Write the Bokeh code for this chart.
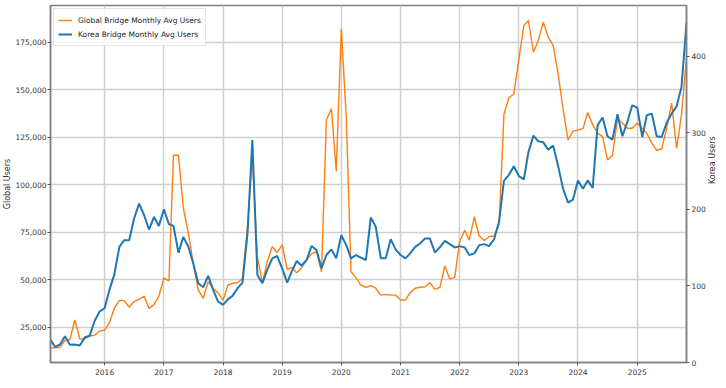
import math
import pandas as pd
from bokeh.plotting import figure
from bokeh.models import (Range1d, LinearAxis, FixedTicker, NumeralTickFormatter,
                          DatetimeTickFormatter, Legend, LegendItem)
from bokeh.embed import file_html
from bokeh.resources import INLINE

# ---- data (monthly averages, Feb 2015 .. Nov 2025) ----
start_month = "2015-02-01"

global_users = [
    14200, 14200, 14500, 18000, 18500, 28800, 18700, 18900, 20400, 20800,
    22900, 23500, 27700, 35000, 39000, 39000, 35500, 38500, 39600, 41300,
    34800, 37000, 41400, 50800, 49400, 115500, 115500, 87700, 74500, 58700,
    44600, 40200, 48900, 45400, 43100, 39300, 47200, 48100, 48400, 50700,
    78000, 114200, 62200, 48400, 59500, 67400, 64300, 68300, 55500, 56400,
    53700, 56400, 60400, 63600, 64800, 54200, 134000, 140000, 107100, 182000,
    135300, 54200, 51100, 47200, 46000, 46900, 45500, 41900, 42300, 41900,
    41900, 39300, 39300, 43200, 45500, 46000, 46300, 48400, 44900, 46000,
    57200, 50300, 51200, 70000, 76000, 70800, 83100, 73000, 70600, 72700,
    73000, 79000, 137000, 145900, 147600, 166100, 183700, 186400, 169700, 175800,
    185500, 177600, 173200, 158200, 139700, 123500, 128200, 128800, 129500, 138000,
    131500, 127100, 125300, 113000, 115400, 134500, 132500, 129700, 129700, 132400,
    129700, 127000, 121800, 118000, 118900, 129500, 142900, 119100, 136700, 167000,
]

korea_users = [
    29.5, 20.5, 23.5, 34.4, 23.1, 23.5, 22.2, 33.0, 35.0, 54.5,
    66.5, 70.8, 95.5, 115.0, 151.0, 159.7, 159.7, 187.9, 207.4, 192.2,
    173.6, 190.0, 178.3, 200.0, 180.5, 178.3, 143.3, 164.0, 151.0, 129.5,
    103.5, 98.3, 113.0, 94.8, 79.6, 75.3, 82.7, 87.0, 97.0, 104.3,
    168.0, 290.5, 114.3, 103.5, 120.8, 136.0, 139.0, 123.0, 104.3, 118.6,
    132.5, 126.4, 133.8, 152.0, 146.8, 123.0, 140.3, 147.6, 136.0, 166.2,
    153.2, 136.0, 140.3, 136.8, 133.8, 189.2, 177.0, 136.0, 136.0, 161.0,
    147.6, 140.3, 136.0, 142.4, 151.0, 155.4, 161.9, 161.9, 143.7, 150.5,
    158.8, 154.5, 150.2, 151.9, 150.2, 140.2, 142.4, 153.2, 154.5, 151.9,
    160.6, 184.0, 237.0, 245.0, 256.2, 243.5, 239.0, 274.4, 296.1, 288.7,
    287.4, 277.9, 283.1, 256.3, 226.8, 208.7, 212.6, 237.7, 226.8, 237.7,
    228.0, 309.6, 319.7, 295.3, 291.0, 324.0, 295.3, 314.0, 335.7, 332.7,
    294.4, 322.7, 324.9, 295.3, 294.4, 312.6, 324.9, 334.4, 359.6, 443.0,
]

year_ticks = [2016, 2017, 2018, 2019, 2020, 2021, 2022, 2023, 2024, 2025]
global_ticks = [25000, 50000, 75000, 100000, 125000, 150000, 175000]
korea_ticks = [0, 100, 200, 300, 400]

global_label = "Global Bridge Monthly Avg Users"
korea_label = "Korea Bridge Monthly Avg Users"

# ---- build ----
dates = pd.date_range(start_month, periods=len(global_users), freq="MS").to_pydatetime()

FONT = "DejaVu Sans"
GRID = "#cfcfcf"
SPINE = "#808080"
TXT = "#333333"

p = figure(width=724, height=386, x_axis_type="datetime",
           output_backend="svg", toolbar_location=None,
           min_border_left=50, min_border_right=36,
           min_border_top=5, min_border_bottom=24,
           x_range=Range1d(dates[0], dates[-1]),
           y_range=Range1d(6420, 194300))

p.extra_y_ranges = {"korea": Range1d(0, 466)}

p.background_fill_color = "white"
p.border_fill_color = "white"
p.outline_line_color = SPINE
p.outline_line_width = 1.5

r_g = p.line(dates, global_users, line_color="#ff7f0e", line_width=1.4)
r_k = p.line(dates, korea_users, line_color="#1f77b4", line_width=2.0,
             y_range_name="korea")


def style_axis(ax):
    ax.major_label_text_font = FONT
    ax.major_label_text_font_size = "7.5px"
    ax.major_label_text_color = TXT
    ax.major_tick_out = 3
    ax.major_tick_in = 0
    ax.minor_tick_out = 0
    ax.minor_tick_in = 0
    ax.axis_line_color = SPINE
    ax.axis_line_width = 1.5
    ax.major_tick_line_color = "#555555"
    ax.axis_label_text_font = FONT
    ax.axis_label_text_font_size = "8px"
    ax.axis_label_text_font_style = "normal"
    ax.axis_label_text_color = TXT


# x axis
tick_ms = [pd.Timestamp(f"{y}-01-01").value // 10**6 for y in year_ticks]
xa = p.xaxis[0]
xa.ticker = FixedTicker(ticks=tick_ms)
xa.formatter = DatetimeTickFormatter(years="%Y", months="%Y", days="%Y",
                                     hours="%Y", hourmin="%Y", minutes="%Y")
style_axis(xa)
xa.major_label_standoff = 3

# left axis
ya = p.yaxis[0]
ya.ticker = FixedTicker(ticks=global_ticks)
ya.formatter = NumeralTickFormatter(format="0,0")
style_axis(ya)
ya.major_label_standoff = 1
ya.axis_label = "Global Users"
ya.axis_label_standoff = 0

# right axis
ra = LinearAxis(y_range_name="korea", ticker=FixedTicker(ticks=korea_ticks),
                axis_label="Korea Users")
style_axis(ra)
ra.major_label_standoff = 2
ra.axis_label_standoff = 4
ra.axis_label_orientation = math.pi / 2
p.add_layout(ra, "right")

# grids
p.xgrid.grid_line_color = GRID
p.xgrid.grid_line_width = 1.5
p.ygrid.grid_line_color = GRID
p.ygrid.grid_line_width = 1.5

legend = Legend(items=[LegendItem(label=global_label, renderers=[r_g]),
                       LegendItem(label=korea_label, renderers=[r_k])],
                location="top_left")
legend.margin = 3
legend.padding = 4
legend.spacing = 0
legend.label_height = 14
legend.glyph_height = 14
legend.glyph_width = 14
legend.label_standoff = 6
legend.label_text_font = FONT
legend.label_text_font_size = "7.5px"
legend.label_text_color = "#222222"
legend.border_line_color = "#cccccc"
legend.border_line_width = 1
legend.background_fill_color = "white"
legend.background_fill_alpha = 0.85
p.add_layout(legend)

open("out.html", "w").write(file_html(p, INLINE))
